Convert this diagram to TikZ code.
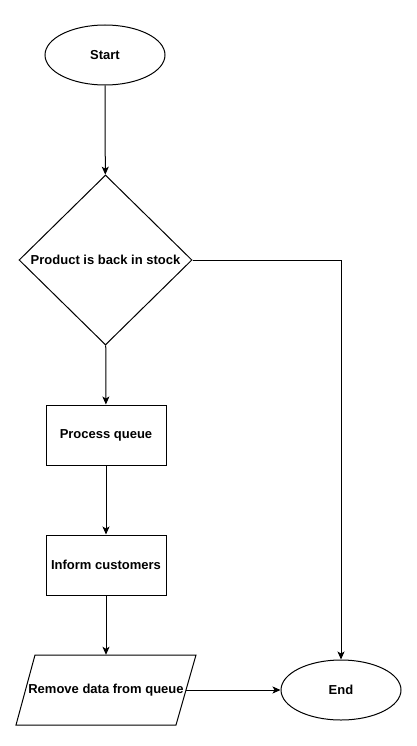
\documentclass[tikz,border=0pt]{standalone}
\usepackage{fontspec}
\setmainfont{Liberation Sans}
\usetikzlibrary{shapes.geometric,arrows.meta}
\tikzset{
	flow/.style={line width=1pt,-{Stealth[length=8pt,width=7pt,inset=2pt]}},
	terminal/.style={draw,ellipse,line width=1pt,minimum width=120pt,minimum height=60pt,inner sep=0pt},
	process/.style={draw,rectangle,line width=1pt,minimum width=120pt,minimum height=60pt,inner sep=0pt},
	decision/.style={draw,diamond,line width=1pt,minimum width=173pt,minimum height=170pt,inner sep=0pt},
	label/.style={font=\fontsize{13}{15}\selectfont\bfseries}
}
\begin{document}
\begin{tikzpicture}[x=1pt,y=-1pt]
		\useasboundingbox (0,0) rectangle (416,746);
		%Start
			\node[terminal,label] (start) at (105,55) {Start};
		%Decision
			\node[decision,label] (stock) at (105.5,260) {Product is back in stock};
		%Steps
			\node[process,label] (queue) at (106,435) {Process queue};
			\node[process,label] (inform) at (106,565) {Inform customers};
		%Data
			\node[label,minimum width=160pt,minimum height=70pt,inner sep=0pt] (remove) at (106,690) {Remove data from queue};
			\draw[line width=1pt] (35,655) -- (196,655) -- (176,725) -- (16,725) -- cycle;
		%End
			\node[terminal,label] (end) at (341,690) {End};
		%Arrows
			\draw[flow] (start) -- (stock);
			\draw[flow] (stock) -- (queue);
			\draw[flow] (queue) -- (inform);
			\draw[flow] (inform) -- (remove);
			\draw[flow] (remove.east) -- (end.west);
			\draw[flow] (stock.east) -| (end.north);
	\end{tikzpicture}
\end{document}
